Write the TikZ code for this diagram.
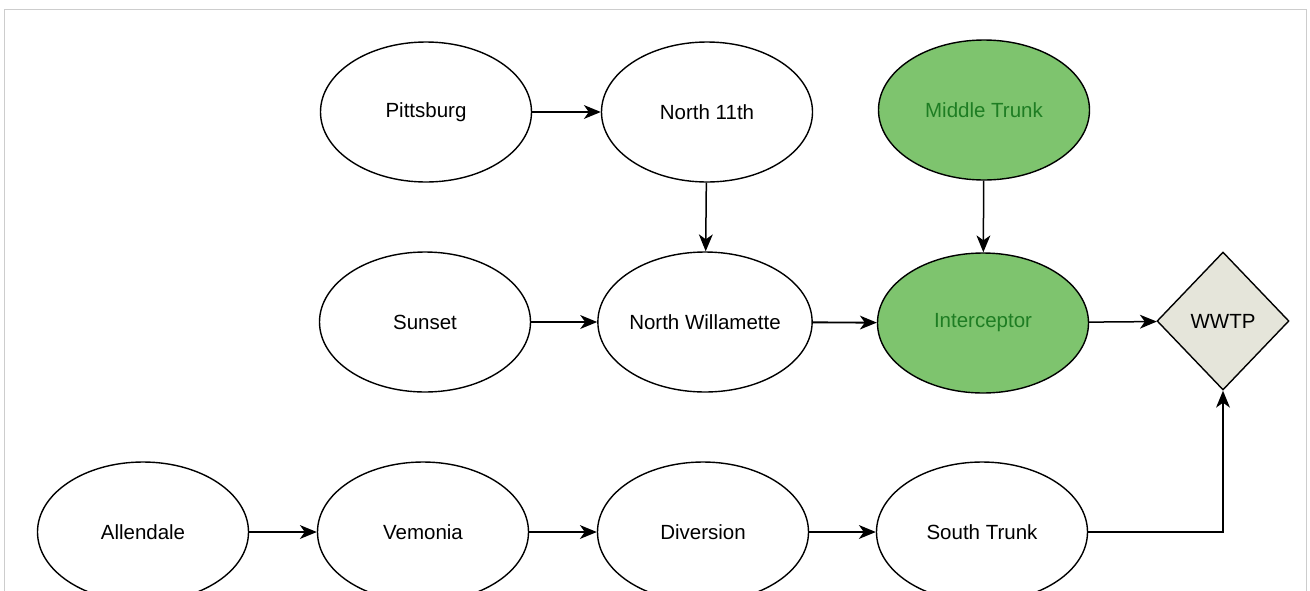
\documentclass[tikz,border=0pt]{standalone}
\usepackage{fontspec}
\setmainfont{Liberation Sans}
\usetikzlibrary{shapes.geometric,arrows.meta}
\definecolor{gfill}{RGB}{126,196,110}
\definecolor{gtext}{RGB}{30,125,35}
\definecolor{dfill}{RGB}{229,229,218}
\definecolor{framec}{RGB}{205,205,205}
\tikzset{
  oval/.style={ellipse,draw=black,line width=1.4pt,fill=white,minimum width=211pt,minimum height=140pt,inner sep=0pt,font=\fontsize{20.5}{24}\selectfont},
  greenoval/.style={oval,fill=gfill,text=gtext},
  plant/.style={diamond,draw=black,line width=1.4pt,fill=dfill,minimum width=132pt,minimum height=138pt,inner sep=0pt,font=\fontsize{20.5}{24}\selectfont},
  tipshape/.tip={Stealth[length=17pt,width=14pt,inset=5pt,line width=0pt]},
  flow/.style={-tipshape,line width=1.5pt,black}
}
\begin{document}
\begin{tikzpicture}[x=1pt,y=-1pt]
\useasboundingbox (0,0) rectangle (1310,590);
\clip (0,0) rectangle (1310,590);
\fill[white] (0,0) rectangle (1310,590);
\draw[framec,line width=0.8pt] (4,600) -- (4,9) -- (1306,9) -- (1306,600);
\node[oval] (pit) at (426,112) {Pittsburg};
\node[oval] (n11) at (707,112) {North 11th};
\node[greenoval] (mid) at (984,110) {Middle Trunk};
\node[oval] (sun) at (425,322) {Sunset};
\node[oval] (nwil) at (705,322) {North Willamette};
\node[greenoval] (int) at (983,323) {Interceptor};
\node[plant] (wwtp) at (1223,321) {WWTP};
\node[oval] (all) at (143,532) {Allendale};
\node[oval] (ver) at (423,532) {Vemonia};
\node[oval] (div) at (703,532) {Diversion};
\node[oval] (st) at (982,532) {South Trunk};
\draw[flow] (pit) -- (n11);
\draw[flow] (n11) -- (nwil);
\draw[flow] (mid) -- (int);
\draw[flow] (sun) -- (nwil);
\draw[flow,line width=1.9pt] (nwil) -- (int);
\draw[flow] (int) -- (wwtp);
\draw[flow] (all) -- (ver);
\draw[flow] (ver) -- (div);
\draw[flow] (div) -- (st);
\draw[flow] (st.east) -| (wwtp.south);
\end{tikzpicture}
\end{document}
